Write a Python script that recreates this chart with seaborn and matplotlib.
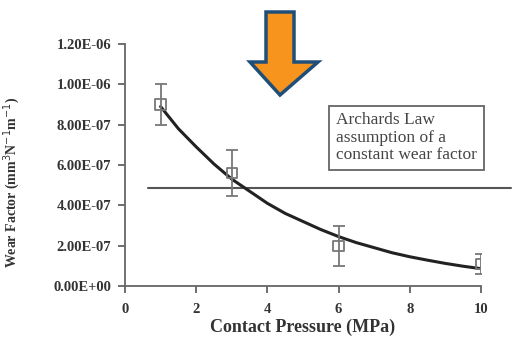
import numpy as np
import pandas as pd
import matplotlib
matplotlib.use("Agg")
import matplotlib.pyplot as plt
import seaborn as sns
from matplotlib.patches import Polygon

# measured points (contact pressure in MPa, wear factor)
pressure = [1, 3, 6, 10]
wear = [9.0e-7, 5.6e-7, 2.0e-7, 1.1e-7]
wear_err = [1.0e-7, 1.15e-7, 1.0e-7, 0.5e-7]

# fitted curve
fit_x = [1, 1.5, 2, 2.5, 3, 3.5, 4, 4.5, 5, 5.5, 6, 6.5, 7, 7.5, 8, 8.5, 9, 9.5, 10]
fit_y = [8.9e-7, 7.8e-7, 6.9e-7, 6.05e-7, 5.3e-7, 4.7e-7, 4.1e-7, 3.6e-7, 3.2e-7,
         2.8e-7, 2.45e-7, 2.15e-7, 1.9e-7, 1.65e-7, 1.45e-7, 1.28e-7, 1.12e-7,
         0.98e-7, 0.86e-7]

# Archard's law constant wear factor
archard = 4.85e-7
archard_span = [0.65, 10.85]

yticks = [0, 2e-7, 4e-7, 6e-7, 8e-7, 1e-6, 1.2e-6]
ytick_labels = ["0.00E+00", "2.00E-07", "4.00E-07", "6.00E-07", "8.00E-07", "1.00E-06", "1.20E-06"]
xticks = [0, 2, 4, 6, 8, 10]

sns.set_theme(style="ticks")
plt.rcParams['font.family'] = ['Liberation Serif', 'DejaVu Serif']

fig = plt.figure(figsize=(5.15, 3.45), dpi=100)
ax = fig.add_axes([0.2427, 0.171, 0.6913, 0.7014])

df_fit = pd.DataFrame({"x": fit_x, "y": fit_y})
sns.lineplot(data=df_fit, x="x", y="y", ax=ax, color="#222222", lw=2.2, zorder=3)

ax.plot(archard_span, [archard, archard], color="#555555", lw=1.5, clip_on=False, zorder=2)

ax.errorbar(pressure, wear, yerr=wear_err, fmt="none", ecolor="#777777",
            elinewidth=1.3, capsize=4.5, capthick=1.3, zorder=4)
df_pts = pd.DataFrame({"x": pressure, "y": wear})
sns.scatterplot(data=df_pts, x="x", y="y", ax=ax, marker="s", s=55,
                facecolor="none", edgecolor="#777777", linewidth=1.3, zorder=5)

ax.set_xlim(0, 10)
ax.set_ylim(0, 1.2e-6)
ax.set_xticks(xticks)
ax.set_yticks(yticks)
ax.set_yticklabels(ytick_labels)
ax.tick_params(labelsize=10.5, colors="#555555", labelcolor="#333333", length=5, width=1.2)
ax.tick_params(axis="y", pad=5)
ax.tick_params(axis="x", pad=7)
for lab in ax.get_xticklabels() + ax.get_yticklabels():
    lab.set_fontweight("bold")
for s in ["left", "bottom"]:
    ax.spines[s].set_color("#666666")
    ax.spines[s].set_linewidth(1.3)
sns.despine(ax=ax)

ax.set_xlabel("Contact Pressure (MPa)", fontsize=13, fontweight="bold", color="#333333")
ax.xaxis.set_label_coords(0.5, -0.135)
ax.set_ylabel("Wear Factor (mm$^3$N$^{-1}$m$^{-1}$)", fontsize=10, fontweight="bold",
              color="#333333")
ax.yaxis.set_label_coords(-0.29, 0.43)

fig.text(0.652, 0.601, "Archards Law\nassumption of a\nconstant wear factor",
         fontsize=12.5, color="#444444", linespacing=1.1, va="center", ha="left",
         bbox=dict(boxstyle="square,pad=0.4", facecolor="white", edgecolor="#666666", lw=1.3))

# orange arrow at the top
W, H = 515, 345
pts = [(266, 12), (294, 12), (294, 62), (318, 62), (280, 95), (250, 62), (266, 62)]
arrow = Polygon([(px / W, 1 - py / H) for px, py in pts], closed=True,
                transform=fig.transFigure, facecolor="#F7941D", edgecolor="#1F4E79",
                lw=2.5, joinstyle="miter")
fig.patches.append(arrow)

fig.savefig("out.png", dpi=100)
